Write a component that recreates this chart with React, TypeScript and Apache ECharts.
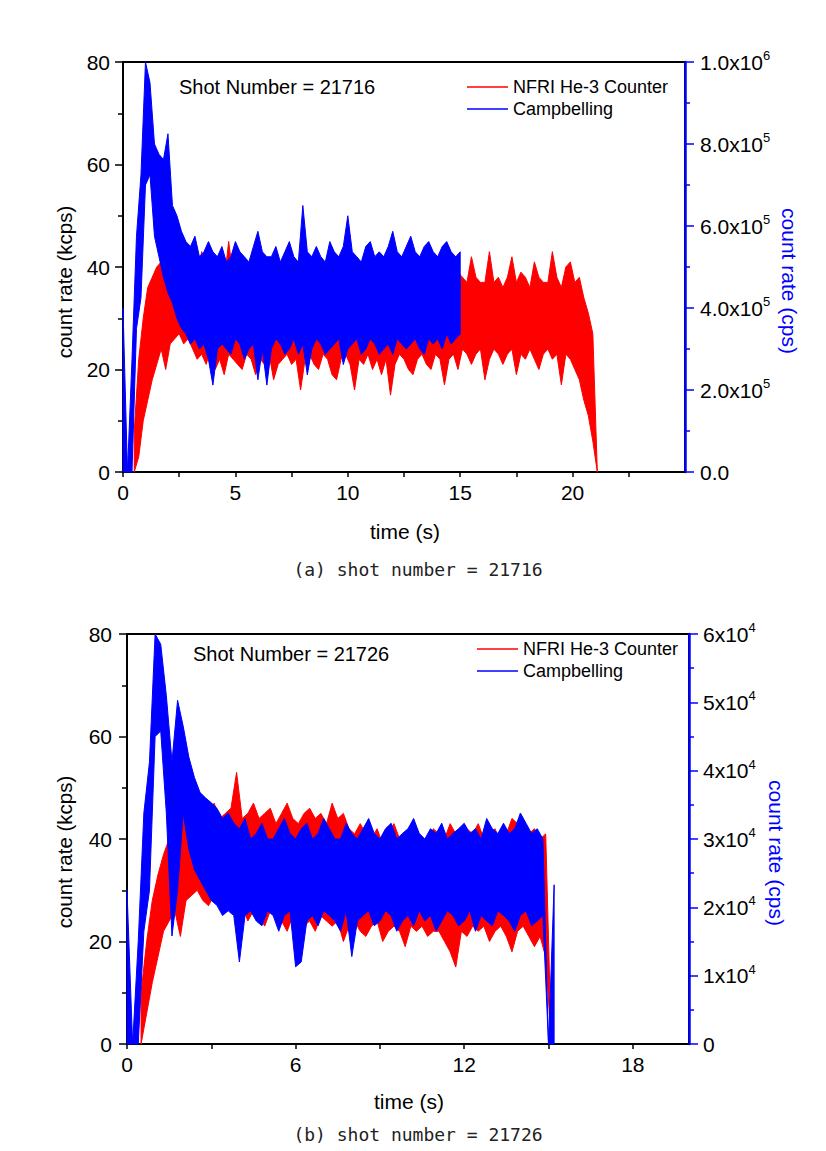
import React, { useEffect, useRef } from "react";
import * as echarts from "echarts";

// ---------- data ----------
// Each noisy trace is stored as a min/max envelope per 0.2 s time bin.
const BIN_STEP = 0.2; // s

// (a) shot 21716 — NFRI He-3 counter, kcps (left axis), bins from 0.5 s
const aRedStart = 0.5;
const aRedLow = [
  0, 3, 10, 14, 18, 21, 24, 20, 25, 26,
  27, 25, 26, 24, 22, 23, 21, 24, 20, 22,
  19, 23, 22, 21, 20, 23, 22, 19, 22, 21,
  23, 18, 21, 22, 23, 21, 22, 16, 22, 23,
  21, 20, 23, 22, 19, 18, 22, 23, 21, 16,
  22, 21, 23, 20, 22, 19, 22, 15, 21, 23,
  22, 20, 19, 22, 23, 21, 20, 23, 22, 17,
  22, 23, 20, 24, 23, 21, 23, 24, 18, 22,
  24, 23, 21, 23, 24, 19, 23, 22, 24, 22,
  20, 23, 24, 22, 23, 17, 23, 22, 20, 18,
  14, 11, 6, 0,
];
const aRedHigh = [
  8, 22, 30, 36, 38, 40, 41, 43, 44, 41,
  40, 44, 39, 42, 38, 43, 39, 37, 40, 38,
  37, 45, 38, 37, 39, 36, 38, 40, 37, 39,
  36, 38, 37, 39, 36, 38, 37, 40, 38, 36,
  39, 37, 38, 36, 39, 37, 38, 36, 39, 42,
  37, 38, 36, 39, 37, 38, 36, 39, 37, 38,
  36, 39, 37, 38, 36, 39, 37, 38, 40, 37,
  38, 36, 39, 38, 37, 42, 38, 37, 37, 43,
  37, 38, 36, 38, 42, 37, 39, 38, 36, 41,
  38, 37, 37, 43, 38, 36, 40, 41, 37, 38,
  34, 31, 27, 0,
];
// (a) Campbelling, units of 1e3 cps (right axis), bins from 0 s
const aBlueStart = 0.0;
const aBlueLow = [
  0, 0, 0, 350, 425, 700, 725, 575, 525, 475,
  437, 412, 375, 350, 337, 312, 325, 300, 312, 275,
  212, 300, 312, 300, 287, 325, 312, 275, 300, 312,
  225, 300, 212, 300, 325, 312, 287, 300, 325, 287,
  312, 237, 300, 325, 312, 287, 300, 312, 325, 262,
  300, 312, 325, 287, 300, 325, 312, 287, 300, 312,
  287, 325, 312, 300, 312, 325, 300, 287, 325, 312,
  325, 300, 337, 312, 325, 337,
];
const aBlueHigh = [
  400, 0, 275, 575, 725, 1000, 950, 800, 775, 762,
  825, 650, 625, 587, 562, 550, 575, 525, 537, 562,
  537, 525, 550, 512, 525, 562, 537, 525, 512, 550,
  587, 537, 525, 525, 550, 512, 537, 562, 525, 512,
  650, 537, 525, 550, 525, 512, 562, 537, 525, 550,
  625, 537, 525, 512, 550, 562, 525, 537, 525, 550,
  587, 537, 525, 550, 575, 537, 525, 550, 562, 537,
  525, 550, 562, 537, 525, 537,
];

// (b) shot 21726 — NFRI He-3 counter, kcps, bins from 0.5 s
const bRedStart = 0.5;
const bRedLow = [
  0, 6, 12, 17, 22, 24, 26, 21, 28, 29,
  30, 28, 27, 29, 28, 26, 27, 25, 27, 24,
  26, 25, 23, 26, 25, 24, 22, 25, 24, 23,
  24, 22, 25, 24, 23, 24, 20, 23, 24, 22,
  21, 23, 24, 20, 22, 23, 22, 19, 23, 22,
  23, 21, 22, 22, 20, 18, 15, 22, 21, 23,
  22, 23, 20, 22, 23, 21, 18, 22, 23, 21,
  19, 21, 17, 0,
];
const bRedHigh = [
  10, 20, 28, 33, 37, 40, 43, 44, 45, 44,
  46, 44, 45, 47, 44, 45, 46, 53, 44, 45,
  47, 44, 45, 46, 43, 45, 47, 44, 43, 45,
  46, 44, 45, 43, 47, 44, 45, 42, 41, 43,
  41, 40, 42, 39, 41, 43, 40, 39, 41, 42,
  40, 39, 42, 41, 40, 43, 41, 39, 42, 41,
  43, 40, 41, 42, 39, 41, 44, 43, 40, 41,
  42, 40, 41, 0,
];
// (b) Campbelling, units of 1e3 cps, bins from 0 s
const bBlueStart = 0.0;
const bBlueLow = [
  0, 0, 0, 16.5, 22.5, 45, 45.8, 33.8, 15.8, 22.5,
  33.8, 28.5, 25.5, 24, 22.5, 21, 20.3, 18.8, 19.5, 18.8,
  12, 18.8, 19.5, 18, 17.3, 19.5, 18.8, 16.5, 18.8, 19.5,
  11.3, 12, 18, 18.8, 17.3, 19.5, 18.8, 18, 16.5, 19.5,
  12.8, 18, 18.8, 19.5, 17.3, 18, 19.5, 18.8, 16.5, 18,
  18.8, 17.3, 19.5, 18, 18.8, 16.5, 18, 19.5, 18.8, 17.3,
  18, 19.5, 16.5, 18.8, 18, 17.3, 19.5, 18.8, 18, 16.5,
  18.8, 19.5, 17.3, 18, 18.8, 0, 0,
];
const bBlueHigh = [
  22.5, 0, 15, 33.8, 41.3, 60, 58.5, 51, 41.3, 50.3,
  46.5, 42, 39, 36.8, 36, 35.3, 34.5, 33, 33.8, 32.3,
  31.5, 33, 30, 30.8, 32.3, 30, 30, 31.5, 33, 30.8,
  30, 31.5, 32.3, 30, 30.8, 33, 31.5, 30, 30, 32.3,
  30.8, 30, 31.5, 33, 30.8, 30, 31.5, 32.3, 30, 30.8,
  31.5, 33, 30.8, 30, 31.5, 30.8, 32.3, 30, 30.8, 31.5,
  32.3, 30.8, 31.5, 30, 33, 31.5, 30.8, 32.3, 30.8, 31.5,
  33.8, 32.3, 30.8, 31.5, 30, 0, 23.3,
];

const seriesNames = ["NFRI He-3 Counter", "Campbelling"];
const shotLabels = ["Shot Number = 21716", "Shot Number = 21726"];
const captions = ["(a) shot number = 21716", "(b) shot number = 21726"];
const leftTitle = "count rate (kcps)";
const rightTitle = "count rate (cps)";
const xTitle = "time (s)";

// ---------- helpers ----------
const FONT = "Arial, 'Liberation Sans', Helvetica, sans-serif";
const MONO = "'DejaVu Sans Mono', 'Liberation Mono', monospace";
const RED = "#ff0000";
const BLUE = "#0000ff";

function sciLabel(v: number, decimals: number) {
  if (v === 0) return `{b|${decimals ? (0).toFixed(decimals) : "0"}}`;
  const e = Math.floor(Math.log10(v) + 1e-9);
  const m = v / Math.pow(10, e);
  return `{b|${m.toFixed(decimals)}x10}{sup|${e}}`;
}

const richLabel = {
  b: { fontSize: 21, fontFamily: FONT, color: "#000", lineHeight: 26 },
  sup: { fontSize: 13, fontFamily: FONT, color: "#000", verticalAlign: "top", lineHeight: 14 },
};

function xAxisDef(grid: number, max: number, interval: number, labelEvery: number) {
  return {
    type: "value",
    gridIndex: grid,
    min: 0,
    max,
    interval,
    axisLine: { show: true, onZero: false, lineStyle: { color: "#000", width: 2 } },
    axisTick: { show: true, inside: false, length: 5, lineStyle: { color: "#000", width: 1.5 } },
    axisLabel: {
      show: true,
      margin: 10,
      fontSize: 21,
      fontFamily: FONT,
      color: "#000",
      showMaxLabel: false,
      formatter: (v: number) => (Math.abs(v / labelEvery - Math.round(v / labelEvery)) < 1e-6 ? String(v) : ""),
    },
    splitLine: { show: false },
  };
}

function leftAxisDef(grid: number, margin: number) {
  return {
    type: "value",
    gridIndex: grid,
    position: "left",
    min: 0,
    max: 80,
    interval: 20,
    axisLine: { show: true, onZero: false, lineStyle: { color: "#000", width: 2 } },
    axisTick: { show: true, length: 8, lineStyle: { color: "#000", width: 1.5 } },
    minorTick: { show: true, splitNumber: 2, length: 5, lineStyle: { color: "#000", width: 1.5 } },
    axisLabel: { margin, fontSize: 21, fontFamily: FONT, color: "#000" },
    splitLine: { show: false },
    minorSplitLine: { show: false },
  };
}

function rightAxisDef(grid: number, max: number, interval: number, decimals: number, margin: number) {
  return {
    type: "value",
    gridIndex: grid,
    position: "right",
    min: 0,
    max,
    interval,
    axisLine: { show: true, onZero: false, lineStyle: { color: BLUE, width: 2.5 } },
    axisTick: { show: true, length: 9, lineStyle: { color: BLUE, width: 1.5 } },
    minorTick: { show: true, splitNumber: 2, length: 5, lineStyle: { color: BLUE, width: 1.5 } },
    axisLabel: {
      margin,
      formatter: (v: number) => sciLabel(v, decimals),
      rich: richLabel,
    },
    splitLine: { show: false },
    minorSplitLine: { show: false },
  };
}

// A noisy trace drawn as a filled min/max band, through the axes' own scales (api.coord)
function traceBand(
  name: string,
  color: string,
  xi: number,
  yi: number,
  start: number,
  low: number[],
  high: number[],
  scale: number,
  z: number
) {
  const data = low.map((lo, i) => [+(start + i * BIN_STEP).toFixed(3), lo * scale, high[i] * scale]);
  return {
    type: "custom",
    name,
    xAxisIndex: xi,
    yAxisIndex: yi,
    data,
    encode: { x: 0, y: [1, 2] },
    itemStyle: { color },
    silent: true,
    z,
    renderItem: (params: any, api: any) => {
      if (params.dataIndex !== 0) return null;
      const n = params.dataInsideLength;
      const top: number[][] = [];
      const bot: number[][] = [];
      for (let i = 0; i < n; i++) {
        const t = api.value(0, i);
        top.push(api.coord([t, api.value(2, i)]));
        bot.push(api.coord([t, api.value(1, i)]));
      }
      return {
        type: "polygon",
        shape: { points: top.concat(bot.reverse()) },
        style: { fill: color, stroke: color, lineWidth: 1, lineJoin: "miter" },
        silent: true,
      };
    },
  };
}

function txt(text: string, x: number, y: number, opts: any = {}) {
  return {
    type: "text",
    x,
    y,
    rotation: opts.rotation || 0,
    silent: true,
    style: {
      text,
      fill: opts.color || "#000",
      font: `${opts.weight || "normal"} ${opts.size || 20}px ${opts.family || FONT}`,
      textAlign: opts.align || "center",
      textVerticalAlign: "middle",
      verticalAlign: "middle",
      align: opts.align || "center",
    },
  };
}

export default function App() {
  const ref = useRef<HTMLDivElement>(null);

  useEffect(() => {
    if (!ref.current) return;
    const chart = echarts.init(ref.current, undefined, { renderer: "svg" });

    const legendBase = {
      orient: "vertical",
      itemWidth: 41,
      itemHeight: 1.5,
      itemGap: 2,
      padding: 0,
      icon: "rect",
      data: seriesNames,
      selectedMode: false,
      textStyle: { fontSize: 18, fontFamily: FONT, color: "#000", lineHeight: 20 },
    };

    const option: any = {
      animation: false,
      backgroundColor: "#fff",
      grid: [
        { left: 123, top: 62, width: 562, height: 410, show: true, borderColor: "#000", borderWidth: 2, backgroundColor: "transparent" },
        { left: 127, top: 634, width: 562, height: 410, show: true, borderColor: "#000", borderWidth: 2, backgroundColor: "transparent" },
      ],
      legend: [
        { ...legendBase, left: 467, top: 77 },
        { ...legendBase, left: 477, top: 639 },
      ],
      xAxis: [xAxisDef(0, 25, 2.5, 5), xAxisDef(1, 20, 3, 6)],
      yAxis: [
        leftAxisDef(0, 13),
        rightAxisDef(0, 1000000, 200000, 1, 15),
        leftAxisDef(1, 15),
        rightAxisDef(1, 60000, 10000, 0, 14),
      ],
      series: [
        traceBand(seriesNames[0], RED, 0, 0, aRedStart, aRedLow, aRedHigh, 1, 2),
        traceBand(seriesNames[1], BLUE, 0, 1, aBlueStart, aBlueLow, aBlueHigh, 1000, 3),
        traceBand(seriesNames[0], RED, 1, 2, bRedStart, bRedLow, bRedHigh, 1, 2),
        traceBand(seriesNames[1], BLUE, 1, 3, bBlueStart, bBlueLow, bBlueHigh, 1000, 3),
      ],
      graphic: [
        txt(shotLabels[0], 179, 87, { align: "left", size: 20 }),
        txt(shotLabels[1], 193, 654, { align: "left", size: 20 }),
        txt(leftTitle, 64, 282, { rotation: Math.PI / 2, size: 20.5 }),
        txt(leftTitle, 64, 852, { rotation: Math.PI / 2, size: 20.5 }),
        txt(rightTitle, 789, 281, { rotation: -Math.PI / 2, size: 21, color: BLUE }),
        txt(rightTitle, 776, 853, { rotation: -Math.PI / 2, size: 21, color: BLUE }),
        txt(xTitle, 405, 531, { size: 21 }),
        txt(xTitle, 409, 1101, { size: 21 }),
        txt(captions[0], 418, 569, { size: 18, family: MONO, color: "#222" }),
        txt(captions[1], 418, 1134, { size: 18, family: MONO, color: "#222" }),
      ],
    };

    chart.setOption(option);
    return () => chart.dispose();
  }, []);

  return (
    <div
      ref={ref}
      style={{ position: "absolute", left: 0, top: 0, width: 826, height: 1151, background: "#fff" }}
    />
  );
}
